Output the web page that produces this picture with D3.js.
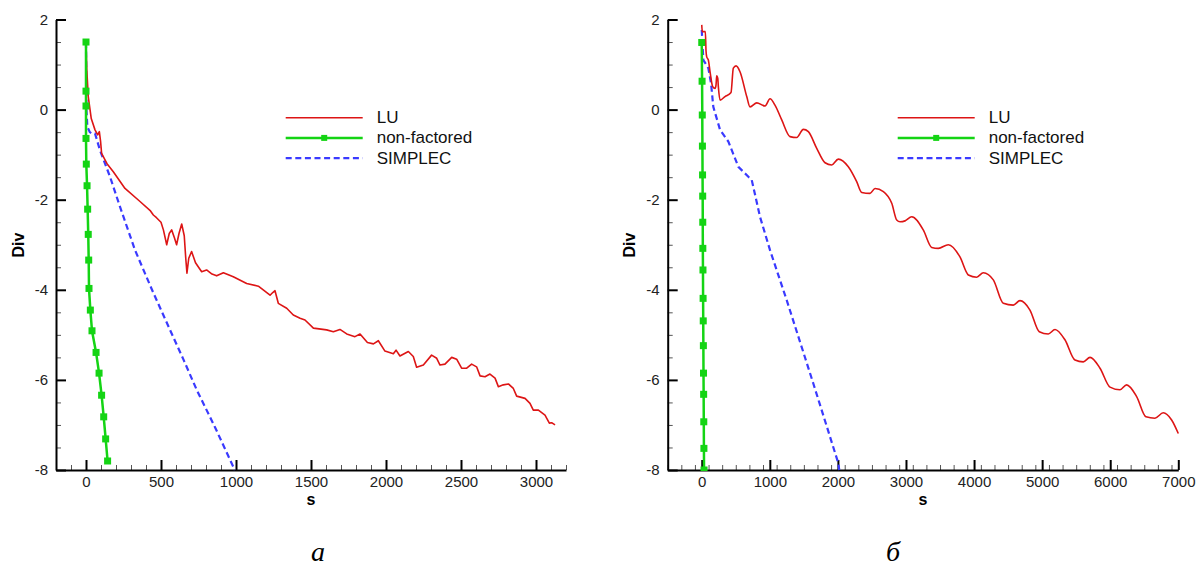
<!DOCTYPE html>
<html><head><meta charset="utf-8">
<script src="https://cdn.jsdelivr.net/npm/d3@7"></script>
<style>
html,body{margin:0;padding:0;background:#fff;}
svg{display:block;}
.tick text{font-family:"Liberation Sans",Arial,sans-serif;font-size:15px;fill:#222;}
</style></head><body>
<svg id="c" width="1198" height="568"></svg>
<script>
// ---------- data (panel а) ----------
const luA = [[0,1.45],[5,0.9],[15,0.29],[35,-0.2],[60,-0.45],[78,-0.56],[89,-0.49],[97,-0.7],[104,-0.97],[140,-1.2],[182,-1.38],[260,-1.75],[360,-2.04],[430,-2.25],[449,-2.34],[470,-2.4],[500,-2.5],[516,-2.67],[538,-3.0],[555,-2.75],[571,-2.67],[590,-2.85],[604,-3.0],[620,-2.75],[638,-2.54],[655,-2.8],[665,-3.3],[673,-3.63],[685,-3.3],[704,-3.15],[730,-3.4],[771,-3.6],[804,-3.56],[840,-3.65],[871,-3.69],[916,-3.62],[982,-3.71],[1071,-3.86],[1149,-3.92],[1227,-4.12],[1245,-4.06],[1260,-4.02],[1282,-4.30],[1338,-4.41],[1382,-4.56],[1427,-4.63],[1460,-4.67],[1516,-4.85],[1604,-4.89],[1649,-4.93],[1693,-4.88],[1738,-4.98],[1793,-5.04],[1827,-4.98],[1876,-5.17],[1916,-5.20],[1949,-5.13],[1993,-5.36],[2049,-5.42],[2067,-5.34],[2093,-5.47],[2149,-5.37],[2182,-5.48],[2204,-5.72],[2249,-5.67],[2304,-5.45],[2338,-5.52],[2360,-5.67],[2393,-5.65],[2438,-5.50],[2471,-5.54],[2504,-5.74],[2538,-5.74],[2571,-5.65],[2604,-5.71],[2627,-5.91],[2660,-5.93],[2693,-5.87],[2727,-5.96],[2749,-6.15],[2782,-6.11],[2816,-6.09],[2849,-6.19],[2871,-6.36],[2927,-6.41],[2960,-6.52],[2982,-6.67],[3016,-6.67],[3060,-6.78],[3089,-6.96],[3104,-6.95],[3127,-7.00]];
const nfA = [[0,1.5],[0,0.41],[0,0.08],[0,-0.64],[2,-1.21],[7,-1.69],[11,-2.21],[15,-2.77],[18,-3.34],[20,-3.97],[29,-4.45],[40,-4.91],[67,-5.39],[87,-5.85],[104,-6.34],[118,-6.82],[131,-7.31],[144,-7.80]];
const spA = [[0,1.5],[2,0.5],[3,0.0],[9,-0.38],[25,-0.5],[38,-0.53],[60,-0.53],[93,-0.9],[160,-1.49],[227,-2.16],[304,-2.9],[327,-3.12],[440,-4.0],[560,-4.89],[650,-5.55],[738,-6.22],[860,-7.05],[982,-7.93],[992,-8.0]];

// ---------- data (panel б) ----------
const luB = [[0,1.88],[8,1.73],[15,1.73],[53,1.73],[63,1.3],[73,1.17],[97,1.10],[122,0.84],[161,0.51],[195,0.47],[210,0.55],[220,0.75],[235,0.7],[244,0.51],[269,0.21],[342,0.29],[430,0.38],[464,0.92],[504,0.97],[562,0.84],[661,0.29],[709,0.06],[808,0.15],[930,0.08],[1003,0.24],[1076,0.10],[1175,-0.23],[1297,-0.60],[1395,-0.62],[1493,-0.44],[1566,-0.49],[1689,-0.86],[1811,-1.18],[1909,-1.23],[2006,-1.10],[2153,-1.27],[2276,-1.60],[2350,-1.84],[2472,-1.86],[2546,-1.75],[2668,-1.82],[2791,-2.08],[2864,-2.45],[2913,-2.49],[2986,-2.47],[3084,-2.38],[3254,-2.67],[3378,-3.06],[3475,-3.08],[3622,-3.0],[3793,-3.27],[3916,-3.67],[4039,-3.72],[4136,-3.62],[4283,-3.78],[4430,-4.30],[4576,-4.34],[4674,-4.24],[4821,-4.45],[4958,-4.93],[5090,-4.98],[5189,-4.88],[5335,-5.11],[5482,-5.56],[5604,-5.60],[5703,-5.50],[5850,-5.74],[5997,-6.16],[6143,-6.22],[6241,-6.11],[6388,-6.37],[6525,-6.82],[6657,-6.85],[6779,-6.73],[6902,-6.89],[7000,-7.19]];
const nfB = [[0,1.49],[5,0.63],[8,-0.12],[10,-0.81],[12,-1.45],[14,-1.92],[15,-2.50],[16,-3.08],[18,-3.56],[20,-4.19],[22,-4.69],[24,-5.24],[26,-5.85],[28,-6.32],[30,-6.93],[32,-7.52],[34,-8.0]];
const spB = [[0,1.77],[24,1.10],[97,0.92],[137,0.58],[170,0.06],[269,-0.45],[391,-0.71],[538,-1.27],[685,-1.49],[734,-1.56],[856,-2.38],[1003,-3.12],[1248,-4.23],[1639,-6.08],[2006,-7.85],[2020,-8.0]];

// ---------- axes / labels ----------
const seriesNames = ["LU", "non-factored", "SIMPLEC"];
const yTicks = [2, 0, -2, -4, -6, -8];
const xTicksA = [0, 500, 1000, 1500, 2000, 2500, 3000];
const xTicksB = [0, 1000, 2000, 3000, 4000, 5000, 6000, 7000];
const xDomA = [-200, 3200], xDomB = [-500, 7000];
const yDom = [-8, 2];
const captions = ["а", "б"];
const xTitle = "s", yTitle = "Div";

const colors = {LU: "#dd1515", nf: "#14d414", sp: "#3a3aff"};

const svg = d3.select("#c");
const fmt = d => String(d);

function panel(cfg) {
  const g = svg.append("g");
  const x = d3.scaleLinear().domain(cfg.xDom).range([cfg.x0, cfg.x1]);
  const y = d3.scaleLinear().domain(yDom).range([470, 19.5]);

  // minor ticks
  const xMinor = d3.range(cfg.xDom[0], cfg.xDom[1] + 1e-6, cfg.xMinorStep).filter(v => !cfg.xTicks.includes(v));
  const yMinor = d3.range(-8, 2.0001, 0.5).filter(v => !yTicks.includes(v));
  g.append("g").attr("transform", `translate(0,470)`)
    .call(d3.axisBottom(x).tickValues(xMinor).tickSize(-5).tickFormat("").tickSizeOuter(0))
    .call(s => s.select(".domain").remove())
    .call(s => s.selectAll("line").attr("stroke", "#555").attr("stroke-width", 1));
  g.append("g").attr("transform", `translate(${cfg.x0},0)`)
    .call(d3.axisLeft(y).tickValues(yMinor).tickSize(-5).tickFormat("").tickSizeOuter(0))
    .call(s => s.select(".domain").remove())
    .call(s => s.selectAll("line").attr("stroke", "#555").attr("stroke-width", 1));

  // major axes
  g.append("g").attr("transform", `translate(0,470)`)
    .call(d3.axisBottom(x).tickValues(cfg.xTicks).tickSize(-10).tickSizeOuter(0).tickPadding(6.5).tickFormat(fmt))
    .call(s => s.select(".domain").attr("stroke", "#000").attr("stroke-width", 2))
    .call(s => s.selectAll(".tick line").attr("stroke", "#000").attr("stroke-width", 2))
    .call(s => s.selectAll("text").attr("fill", "#222"));
  g.append("g").attr("transform", `translate(${cfg.x0},0)`)
    .call(d3.axisLeft(y).tickValues(yTicks).tickSize(-10).tickSizeOuter(0).tickPadding(8).tickFormat(fmt))
    .call(s => s.select(".domain").attr("stroke", "#000").attr("stroke-width", 2))
    .call(s => s.selectAll(".tick line").attr("stroke", "#000").attr("stroke-width", 2))
    .call(s => s.selectAll("text").attr("fill", "#222"));

  // titles
  g.append("text").attr("x", (cfg.x0 + cfg.x1) / 2).attr("y", 505)
    .attr("text-anchor", "middle").attr("font-family", "Liberation Sans, Arial, sans-serif")
    .attr("font-weight", "bold").attr("font-size", 16).text(xTitle);
  g.append("text").attr("transform", `translate(${cfg.x0 - 38},245) rotate(-90)`)
    .attr("text-anchor", "middle").attr("dominant-baseline", "central")
    .attr("font-family", "Liberation Sans, Arial, sans-serif")
    .attr("font-weight", "bold").attr("font-size", 16).text(yTitle);

  // lines
  const clipId = "clip" + cfg.id;
  svg.append("clipPath").attr("id", clipId).append("rect")
    .attr("x", cfg.x0).attr("y", 10).attr("width", cfg.x1 - cfg.x0 + 5).attr("height", 461);
  const plot = g.append("g").attr("clip-path", `url(#${clipId})`);
  const line = d3.line().x(d => x(d[0])).y(d => y(d[1]));

  plot.append("path").datum(cfg.sp).attr("fill", "none").attr("stroke", colors.sp)
    .attr("stroke-width", 2.2).attr("stroke-dasharray", "6,3.6").attr("d", line);
  plot.append("path").datum(cfg.lu).attr("fill", "none").attr("stroke", colors.LU)
    .attr("stroke-width", 1.6).attr("stroke-linejoin", "round")
    .attr("d", line.curve(cfg.luCurve));
  line.curve(d3.curveLinear);
  plot.append("path").datum(cfg.nf).attr("fill", "none").attr("stroke", colors.nf)
    .attr("stroke-width", 2.5).attr("d", line);
  plot.selectAll("rect.m").data(cfg.nf).join("rect").attr("class", "m")
    .attr("x", d => x(d[0]) - 3.5).attr("y", d => y(d[1]) - 3.5)
    .attr("width", 7).attr("height", 7).attr("fill", colors.nf);

  // legend
  const lg = g.append("g");
  const rows = [
    {name: seriesNames[0], c: colors.LU, w: 1.6, dash: null, mark: false},
    {name: seriesNames[1], c: colors.nf, w: 2.5, dash: null, mark: true},
    {name: seriesNames[2], c: colors.sp, w: 2.2, dash: "6,3.6", mark: false}
  ];
  rows.forEach((r, i) => {
    const yy = 117.7 + i * 20.2;
    lg.append("line").attr("x1", cfg.legX).attr("x2", cfg.legX + 77).attr("y1", yy).attr("y2", yy)
      .attr("stroke", r.c).attr("stroke-width", r.w).attr("stroke-dasharray", r.dash);
    if (r.mark) lg.append("rect").attr("x", cfg.legX + 38.5 - 3).attr("y", yy - 3).attr("width", 6).attr("height", 6).attr("fill", r.c);
    lg.append("text").attr("x", cfg.legX + 91).attr("y", yy).attr("dominant-baseline", "central")
      .attr("font-family", "Liberation Sans, Arial, sans-serif").attr("font-size", 17).attr("fill", "#111").text(r.name);
  });

  // caption
  g.append("text").attr("x", cfg.capX).attr("y", 561).attr("text-anchor", "middle")
    .attr("font-family", "Liberation Serif, Times New Roman, serif").attr("font-style", "italic")
    .attr("font-size", 28).attr("fill", "#000").text(cfg.cap);
}

panel({id: "A", x0: 56, x1: 566, xDom: xDomA, xTicks: xTicksA, xMinorStep: 100,
  lu: luA, nf: nfA, sp: spA, luCurve: d3.curveLinear, legX: 285.7, capX: 318, cap: captions[0]});
panel({id: "B", x0: 667.7, x1: 1178.3, xDom: xDomB, xTicks: xTicksB, xMinorStep: 200,
  lu: luB, nf: nfB, sp: spB, luCurve: d3.curveMonotoneX, legX: 897.7, capX: 893, cap: captions[1]});
</script>
</body></html>
